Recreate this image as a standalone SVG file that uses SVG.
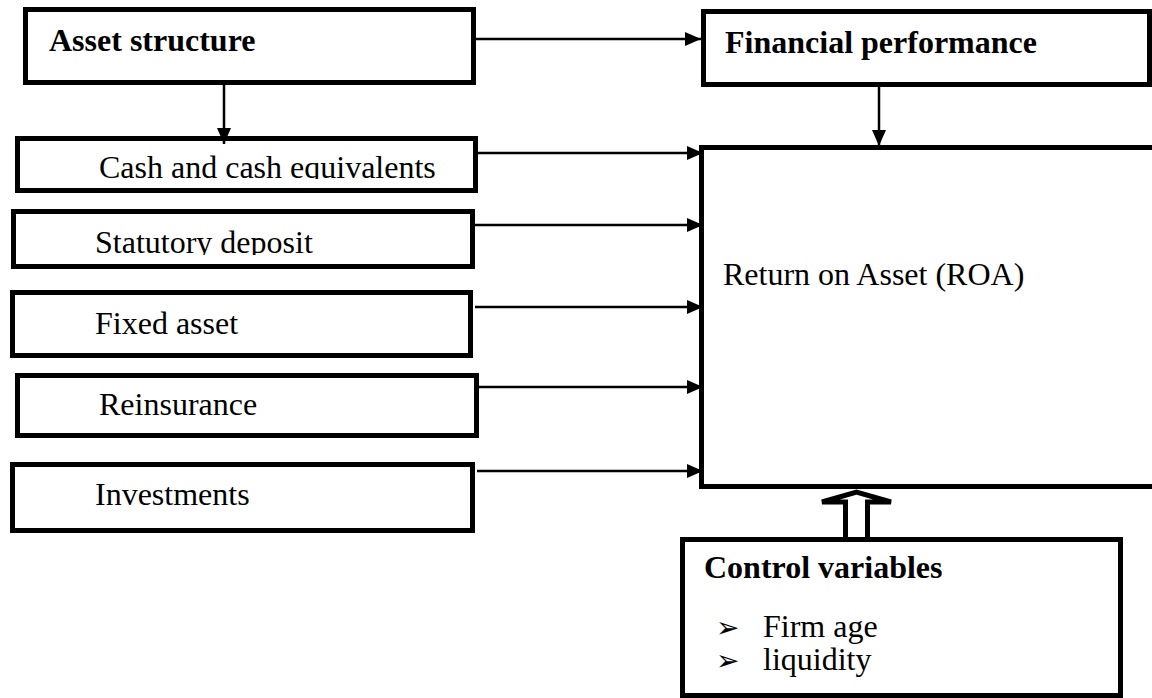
<svg xmlns="http://www.w3.org/2000/svg" width="1152" height="698" viewBox="0 0 1152 698">
<style>
.box{fill:#fff;stroke:#000;stroke-width:5}
.t{font-family:"Liberation Serif","Times New Roman",serif;font-size:32px;fill:#000}
.b{font-weight:bold}
.ln{stroke:#000;stroke-width:2.5;fill:none}
.bul{font-family:"DejaVu Sans",sans-serif;font-size:28px;fill:#000}
</style>
<defs>
<marker id="ah" viewBox="0 0 16 14" refX="16" refY="7" markerWidth="16" markerHeight="14" markerUnits="userSpaceOnUse" orient="auto">
<path d="M0,0 L16,7 L0,14 Z" fill="#000"/>
</marker>
<clipPath id="c1"><rect x="0" y="0" width="1152" height="179"/></clipPath>
<clipPath id="c2"><rect x="0" y="0" width="1152" height="255"/></clipPath>
</defs>
<rect width="1152" height="698" fill="#fff"/>
<g id="asset-structure">
<rect class="box" x="25.5" y="9.5" width="448" height="73"/>
<text class="t b" x="49" y="51">Asset structure</text>
</g>
<g id="financial-performance">
<rect class="box" x="703.5" y="11.5" width="446" height="73"/>
<text class="t b" x="725" y="53">Financial performance</text>
</g>
<g id="cash">
<rect class="box" x="17.5" y="138.5" width="458" height="52"/>
<text class="t" x="99" y="178" clip-path="url(#c1)">Cash and cash equivalents</text>
</g>
<g id="statutory">
<rect class="box" x="13.5" y="211.5" width="459" height="55"/>
<text class="t" x="95" y="253" clip-path="url(#c2)">Statutory deposit</text>
</g>
<g id="fixed">
<rect class="box" x="12.5" y="292.5" width="458" height="63"/>
<text class="t" x="95" y="334">Fixed asset</text>
</g>
<g id="reinsurance">
<rect class="box" x="17.5" y="375.5" width="459" height="60"/>
<text class="t" x="99" y="415">Reinsurance</text>
</g>
<g id="investments">
<rect class="box" x="12.5" y="464.5" width="460" height="66"/>
<text class="t" x="95" y="505">Investments</text>
</g>
<g id="roa">
<rect class="box" x="701.5" y="147.5" width="470" height="339"/>
<text class="t" x="723" y="285">Return on Asset (ROA)</text>
</g>
<g id="control-variables">
<rect class="box" x="682.5" y="539.5" width="438" height="156"/>
<text class="t b" x="704" y="578">Control variables</text>
<text class="bul" x="716" y="637">➢</text>
<text class="t" x="763" y="637">Firm age</text>
<text class="bul" x="716" y="670">➢</text>
<text class="t" x="763" y="670">liquidity</text>
</g>
<g id="connectors">
<line class="ln" x1="476" y1="39" x2="701" y2="39" marker-end="url(#ah)"/>
<line class="ln" x1="224" y1="85" x2="224" y2="144" marker-end="url(#ah)"/>
<line class="ln" x1="879" y1="87" x2="879" y2="146" marker-end="url(#ah)"/>
<line class="ln" x1="478" y1="153" x2="703" y2="153" marker-end="url(#ah)"/>
<line class="ln" x1="475" y1="225" x2="703" y2="225" marker-end="url(#ah)"/>
<line class="ln" x1="475" y1="307" x2="703" y2="307" marker-end="url(#ah)"/>
<line class="ln" x1="479" y1="387" x2="703" y2="387" marker-end="url(#ah)"/>
<line class="ln" x1="477" y1="471" x2="703" y2="471" marker-end="url(#ah)"/>
<path d="M845.5,537 L845.5,502 L822,502 L856.5,492 L891,502 L867.5,502 L867.5,537" fill="#fff" stroke="#000" stroke-width="5" stroke-linejoin="miter"/>
</g>
</svg>
